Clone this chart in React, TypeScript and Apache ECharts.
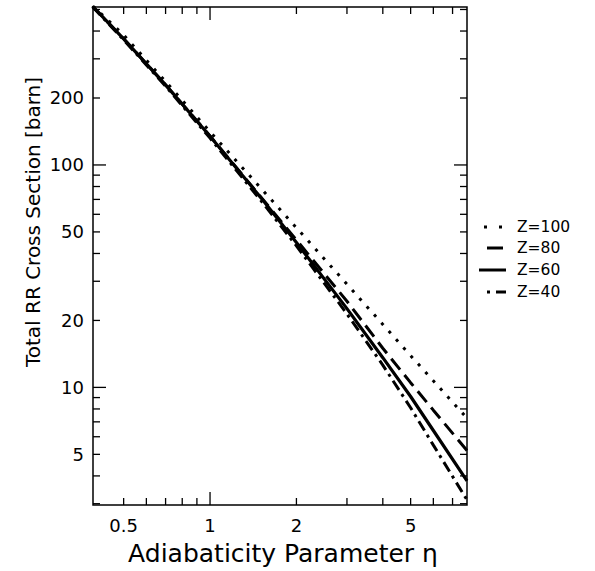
import React, { useEffect, useRef } from "react";
import * as echarts from "echarts";

// ---- data ----
const eta = [0.39, 0.5, 0.7, 1, 1.5, 2, 3, 4, 5, 6, 7.86];
const z100 = [520, 384, 237, 141, 78.9, 52.2, 29.1, 19.2, 13.9, 10.7, 7.27];
const z80 = [516, 369, 229, 135, 72, 46, 24.4, 15.0, 10.5, 7.9, 5.2];
const z60 = [516, 369, 229, 134.6, 71.5, 44.8, 22.6, 13.6, 9.1, 6.4, 3.8];
const z40 = [513, 365, 226, 132, 69.5, 43.3, 21.4, 12.6, 8.1, 5.5, 3.12];
const seriesNames = ["Z=100", "Z=80", "Z=60", "Z=40"];

const xTicks = [0.5, 0.6, 0.7, 0.8, 0.9, 1, 2, 3, 4, 5, 6, 7];
const xLabels = [0.5, 1, 2, 5];
const yTicks = [3, 4, 5, 6, 7, 8, 9, 10, 20, 30, 40, 50, 60, 70, 80, 90, 100, 200, 300, 400, 500];
const yLabels = [5, 10, 20, 50, 100, 200];
const majorTicks = [1, 10, 100];

const X_MIN = 0.391;
const X_MAX = 7.86;
const Y_MIN = 2.96;
const Y_MAX = 513;

const FONT = "'DejaVu Sans', sans-serif";

export default function App() {
  const ref = useRef<HTMLDivElement>(null);
  useEffect(() => {
    document.body.style.margin = "0";
    const chart = echarts.init(ref.current!, null, { renderer: "svg" });

    const tickStyle = { stroke: "#000", lineWidth: 1.3 };

    const xTickItem = (params: any, api: any) => {
      const v = api.value(0);
      const b = api.coord([v, Y_MIN]);
      const t = api.coord([v, Y_MAX]);
      const len = majorTicks.includes(v) ? 13 : 7;
      const children: any[] = [
        { type: "line", shape: { x1: b[0], y1: b[1], x2: b[0], y2: b[1] - len }, style: tickStyle },
        { type: "line", shape: { x1: t[0], y1: t[1], x2: t[0], y2: t[1] + len }, style: tickStyle },
      ];
      if (xLabels.includes(v)) {
        children.push({
          type: "text",
          x: b[0],
          y: b[1] + 20,
          style: { text: String(v), fontSize: 18, fontFamily: FONT, fill: "#000", align: "center", verticalAlign: "middle" },
        });
      }
      return { type: "group", children };
    };

    const yTickItem = (params: any, api: any) => {
      const v = api.value(1);
      const l = api.coord([X_MIN, v]);
      const r = api.coord([X_MAX, v]);
      const len = majorTicks.includes(v) ? 13 : 7;
      const children: any[] = [
        { type: "line", shape: { x1: l[0], y1: l[1], x2: l[0] + len, y2: l[1] }, style: tickStyle },
        { type: "line", shape: { x1: r[0], y1: r[1], x2: r[0] - len, y2: r[1] }, style: tickStyle },
      ];
      if (yLabels.includes(v)) {
        children.push({
          type: "text",
          x: l[0] - 9,
          y: l[1],
          style: { text: String(v), fontSize: 18, fontFamily: FONT, fill: "#000", align: "right", verticalAlign: "middle" },
        });
      }
      return { type: "group", children };
    };

    const mk = (name: string, vals: number[], type: any, width: number) => ({
      name,
      type: "line",
      data: eta.map((e, i) => [e, vals[i]]),
      showSymbol: false,
      symbol: "none",
      lineStyle: { color: "#000", width, type, cap: "butt" },
      z: 3,
    });

    const legendY = [227, 248, 270, 292];
    const legendSamples: any[] = [
      { x1: 484, x2: 502, dash: [3, 12] },
      { x1: 487, x2: 503, dash: null },
      { x1: 479, x2: 506, dash: null },
      { x1: 487, x2: 506, dash: [3, 6, 10, 100] },
    ];
    const graphics: any[] = [];
    seriesNames.forEach((n, i) => {
      const s = legendSamples[i];
      graphics.push({
        type: "line",
        shape: { x1: s.x1, y1: legendY[i], x2: s.x2, y2: legendY[i] },
        style: { stroke: "#000", lineWidth: 3, lineDash: s.dash || undefined },
      });
      graphics.push({
        type: "text",
        x: 517,
        y: legendY[i],
        style: { text: n, fontSize: 15.5, fontFamily: FONT, fill: "#000", align: "left", verticalAlign: "middle" },
      });
    });
    graphics.push({
      type: "text",
      x: 283,
      y: 553,
      style: { text: "Adiabaticity Parameter η", fontSize: 25, fontFamily: FONT, fill: "#000", align: "center", verticalAlign: "middle" },
    });
    graphics.push({
      type: "text",
      x: 33,
      y: 222,
      rotation: Math.PI / 2,
      style: { text: "Total RR Cross Section [barn]", fontSize: 20, fontFamily: FONT, fill: "#000", align: "center", verticalAlign: "middle" },
    });

    chart.setOption({
      animation: false,
      backgroundColor: "#fff",
      grid: { left: 93, top: 7, width: 374, height: 498, show: true, borderColor: "#000", borderWidth: 1.5, backgroundColor: "transparent" },
      xAxis: {
        type: "log",
        logBase: 10,
        min: X_MIN,
        max: X_MAX,
        axisLine: { show: false },
        axisTick: { show: false },
        axisLabel: { show: false },
        splitLine: { show: false },
        minorTick: { show: false },
      },
      yAxis: {
        type: "log",
        logBase: 10,
        min: Y_MIN,
        max: Y_MAX,
        axisLine: { show: false },
        axisTick: { show: false },
        axisLabel: { show: false },
        splitLine: { show: false },
        minorTick: { show: false },
      },
      series: [
        mk(seriesNames[0], z100, [3, 8], 3),
        mk(seriesNames[1], z80, [14, 7], 3),
        mk(seriesNames[2], z60, "solid", 3.2),
        mk(seriesNames[3], z40, [11, 5, 3, 5], 3),
        {
          type: "custom",
          coordinateSystem: "cartesian2d",
          data: xTicks.map((v) => [v, Y_MIN]),
          renderItem: xTickItem,
          clip: false,
          silent: true,
          z: 5,
        },
        {
          type: "custom",
          coordinateSystem: "cartesian2d",
          data: yTicks.map((v) => [X_MIN, v]),
          renderItem: yTickItem,
          clip: false,
          silent: true,
          z: 5,
        },
      ],
      graphic: graphics,
    });
    return () => chart.dispose();
  }, []);
  return <div ref={ref} style={{ width: 595, height: 571 }} />;
}
